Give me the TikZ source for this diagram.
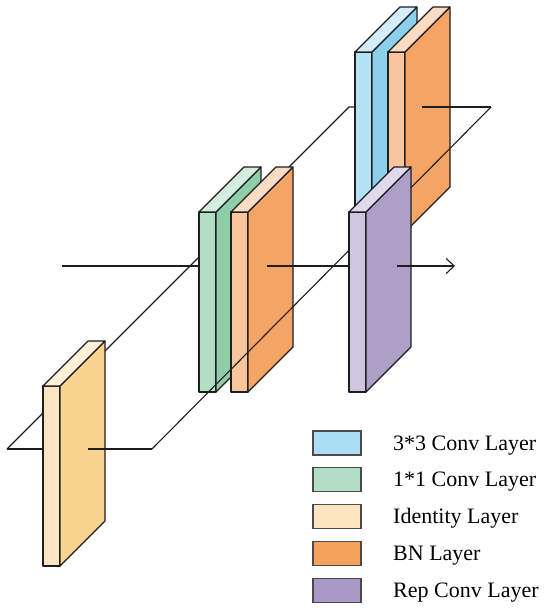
\documentclass[tikz,border=0pt]{standalone}
\usepackage{fontspec}
\setmainfont{Liberation Serif}
\usetikzlibrary{arrows.meta}

\definecolor{inkgray}{HTML}{1E1E1E}
% block faces: front, side, top
\definecolor{cthreeF}{HTML}{B3E1F5}\definecolor{cthreeS}{HTML}{8DD0EC}\definecolor{cthreeT}{HTML}{D4EEF9}
\definecolor{coneF}{HTML}{B3DEC6}\definecolor{coneS}{HTML}{8FCDA8}\definecolor{coneT}{HTML}{D3EDDD}
\definecolor{identF}{HTML}{FDE4C2}\definecolor{identS}{HTML}{F8D38E}\definecolor{identT}{HTML}{FEEFD8}
\definecolor{bnF}{HTML}{F9C59C}\definecolor{bnS}{HTML}{F4A465}\definecolor{bnT}{HTML}{FBDCC2}
\definecolor{repF}{HTML}{CEC6E0}\definecolor{repS}{HTML}{AE9FC8}\definecolor{repT}{HTML}{DEDAEB}
% legend
\definecolor{cthreeL}{HTML}{ABDDF3}\definecolor{coneL}{HTML}{B1DEC4}\definecolor{identL}{HTML}{FDE4C0}
\definecolor{bnL}{HTML}{F4A35C}\definecolor{repL}{HTML}{A999C5}

\tikzset{
  slabline/.style={draw=inkgray,line width=1.1pt,line join=round},
  link/.style={draw=inkgray,line width=1.1pt},
  keybox/.style={draw=inkgray!80,line width=1.1pt,minimum width=48pt,minimum height=24pt,inner sep=0pt},
  keytext/.style={anchor=base west,inner sep=0pt,font=\fontsize{22}{26}\selectfont}
}

% #1,#2 = top-left corner of front face; #3,#4,#5 = front, side, top colours
\newcommand{\layerslab}[5]{%
  \filldraw[slabline,fill=#3] (#1,#2) rectangle ++(17,180);
  \filldraw[slabline,fill=#4] (#1+17,#2) -- ++(45,-45) -- ++(0,180) -- ++(-45,45) -- cycle;
  \filldraw[slabline,fill=#5] (#1,#2) -- ++(17,0) -- ++(45,-45) -- ++(-17,0) -- cycle;
}

\begin{document}
\begin{tikzpicture}[x=1pt,y=-1pt]
  \useasboundingbox (0,0) rectangle (550,612);

  % line end points
  \coordinate (in) at (62,266);
  \coordinate (cone-in) at (199,266);
  \coordinate (bnm-out) at (267,266);
  \coordinate (rep-in) at (349,266);
  \coordinate (rep-out) at (397,266);
  \coordinate (out) at (455,266);
  \coordinate (lo-left) at (7,449);
  \coordinate (ident-in) at (43,449);
  \coordinate (ident-out) at (88,449);
  \coordinate (lo-right) at (152,449);
  \coordinate (hi-left) at (349,107);
  \coordinate (cthree-in) at (355,107);
  \coordinate (bnt-out) at (422,107);
  \coordinate (hi-right) at (491,107);

  % lines behind the blocks
  \draw[link] (lo-left) -- (hi-left) -- (cthree-in);
  \draw[link] (lo-left) -- (ident-in);
  \draw[link] (in) -- (cone-in);

  % 3*3 branch
  \layerslab{355}{52}{cthreeF}{cthreeS}{cthreeT}
  \layerslab{388}{52}{bnF}{bnS}{bnT}
  \draw[link] (bnt-out) -- (hi-right);

  % identity branch
  \layerslab{43}{386}{identF}{identS}{identT}
  \draw[link] (ident-out) -- (lo-right);

  % 1*1 branch
  \layerslab{199}{212}{coneF}{coneS}{coneT}
  \layerslab{231}{212}{bnF}{bnS}{bnT}
  \draw[link] (bnm-out) -- (rep-in);
  \draw[link] (lo-right) -- (hi-right);

  % merged layer
  \layerslab{349}{212}{repF}{repS}{repT}
  \draw[link,-{Straight Barb[length=8pt,width=15pt]}] (rep-out) -- (out);

  % legend
  \foreach \c/\t [count=\i] in {cthreeL/3*3 Conv Layer,coneL/1*1 Conv Layer,identL/Identity Layer,bnL/BN Layer,repL/Rep Conv Layer}{
    \node[keybox,fill=\c] (key\i) at (337,443+36.8*\i-36.8) {};
    \node[keytext] (lbl\i) at (393,450+36.8*\i-36.8) {\t};
  }
\end{tikzpicture}
\end{document}
